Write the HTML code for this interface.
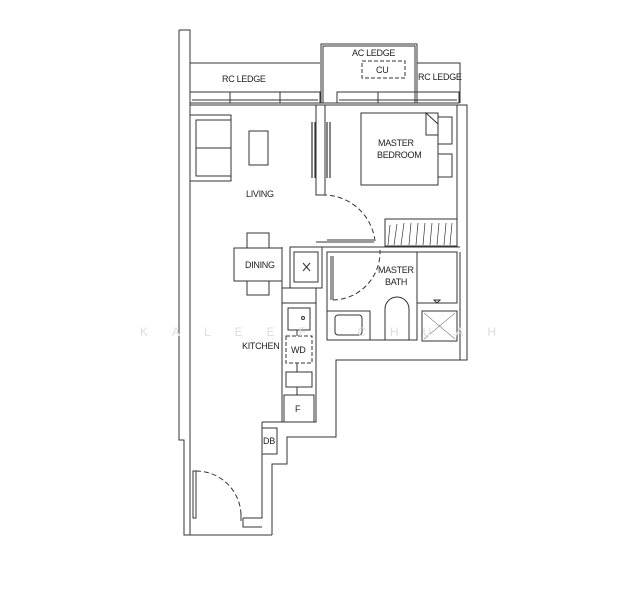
<!DOCTYPE html>
<html><head><style>
html,body{margin:0;padding:0;background:#fff;width:636px;height:600px;overflow:hidden}
svg{display:block}
text{font-family:"Liberation Sans",sans-serif;font-size:9px;fill:#222;letter-spacing:-0.3px}
</style></head><body>
<svg width="636" height="600" viewBox="0 0 636 600" xmlns="http://www.w3.org/2000/svg">
<g fill="none" stroke="#333" stroke-width="1">
<!-- left outer wall -->
<path d="M179,30 H190 V518"/>
<path d="M179,30 V440 H184 V535 H272"/>
<!-- RC ledge left -->
<path d="M190,63 H320"/>
<rect x="190" y="92" width="130" height="11"/>
<path d="M192,100 H318"/>
<path d="M230,92 V103 M280,92 V103"/>
<!-- AC ledge -->
<rect x="321" y="44" width="96" height="59"/>
<rect x="323" y="46" width="92" height="57"/>
<rect x="362" y="61" width="43" height="17" stroke-dasharray="4,2"/>
<!-- right RC ledge -->
<path d="M417,63 H460 V103"/>
<rect x="337" y="92" width="122" height="11"/>
<path d="M339,100 H457 M378,92 V103 M415,92 V103"/>
<path d="M321,92 V103 H336"/>
<!-- right wall -->
<path d="M457,105 H467 V360 H336 V437 H287 V464 H272 V535"/>
<path d="M457,105 V243"/>
<path d="M460,252 V360"/>
<!-- top inner line -->
<path d="M190,105 H316 M325,105 H457"/>
<!-- partition living/bedroom -->
<rect x="316" y="105" width="9" height="90"/>
<path d="M312,122 V178 M315,122 V178 M327,122 V178 M330,122 V178" stroke-width="1.2"/>
<!-- bedroom door -->
<path d="M322,195 A52,52 0 0 1 375,241" stroke-dasharray="5,3"/>
<path d="M327,240 H374 M327,242 H374"/>
<path d="M316,242 H327"/>
<!-- bed -->
<rect x="361" y="113" width="77" height="72"/>
<path d="M426,113 L438,124 V135 H426 Z"/>
<rect x="438" y="117" width="14" height="27"/>
<rect x="438" y="154" width="14" height="23"/>
<!-- wardrobe -->
<rect x="385" y="219" width="72" height="27"/>
<path d="M390,225 L388,245 M397,224 L394,245 M404,223 L401,245 M411,223 L409,245 M418,223 L416,245 M425,223 L423,245 M432,223 L430,245 M439,223 L437,245 M446,223 L444,245 M452,223 L450,245" stroke-width="0.7"/>
<!-- bath -->
<path d="M316,247 H460"/>
<path d="M327,252 H457"/>
<rect x="327" y="252" width="90" height="88"/>
<rect x="417" y="252" width="40" height="51"/>
<path d="M331,256 V300 M333,256 V300"/>
<path d="M333,300 A48,48 0 0 0 380,250" stroke-dasharray="5,3"/>
<path d="M327,311 H370 V340"/>
<rect x="335" y="315" width="27" height="20" rx="3"/>
<path d="M385,340 V309 A12,12 0 0 1 409,309 V340"/>
<path d="M434,300 L437,303 L440,300 Z"/>
<rect x="422" y="311" width="35" height="30"/>
<path d="M424,313 L455,339 M455,313 L424,339" stroke-width="0.5"/>
<!-- shaft -->
<rect x="290" y="247" width="32" height="41"/>
<rect x="294" y="252" width="24" height="30"/>
<path d="M303,263 L310,271 M310,263 L303,271"/>
<path d="M282,247 V422"/>
<!-- dining -->
<rect x="234" y="248" width="48" height="33"/>
<rect x="247" y="233" width="22" height="15"/>
<rect x="247" y="281" width="22" height="14"/>
<!-- living furniture -->
<rect x="190" y="115" width="41" height="66"/>
<rect x="196" y="120" width="35" height="56"/>
<path d="M196,148 H231"/>
<rect x="249" y="131" width="19" height="34"/>
<!-- kitchen -->
<rect x="282" y="288" width="34" height="134"/>
<path d="M282,303 H316"/>
<rect x="288" y="308" width="22" height="22"/>
<circle cx="303" cy="318" r="1.5"/>
<rect x="286" y="336" width="26" height="27" stroke-dasharray="4,2"/>
<rect x="286" y="372" width="26" height="15"/>
<path d="M297,330 V336 M297,363 V372 M297,387 V395"/>
<rect x="284" y="395" width="30" height="27"/>
<!-- DB -->
<path d="M262,422 V518 H243"/>
<path d="M262,422 H282"/>
<rect x="262" y="428" width="15" height="26"/>
<!-- entry door -->
<rect x="193" y="471" width="3" height="47"/>
<path d="M196,471 A45,45 0 0 1 241,516" stroke-dasharray="5,3"/>
<path d="M241,513 V521 M243,518 V527 H262"/>
<path d="M190,518 V535"/>
</g>
<text x="222" y="82">RC LEDGE</text>
<text x="352" y="56">AC LEDGE</text>
<text x="376" y="73">CU</text>
<text x="418" y="80">RC LEDGE</text>
<text x="378" y="146">MASTER</text>
<text x="377" y="158">BEDROOM</text>
<text x="246" y="197">LIVING</text>
<text x="245" y="268">DINING</text>
<text x="378" y="273">MASTER</text>
<text x="385" y="285">BATH</text>
<text x="242" y="349">KITCHEN</text>
<text x="291" y="353">WD</text>
<text x="295" y="412">F</text>
<text x="263" y="444">DB</text>
<text x="140" y="336" style="font-size:12px;fill:#ddd;letter-spacing:24px">KALEEF CHUAH</text>
</svg>
</body></html>
